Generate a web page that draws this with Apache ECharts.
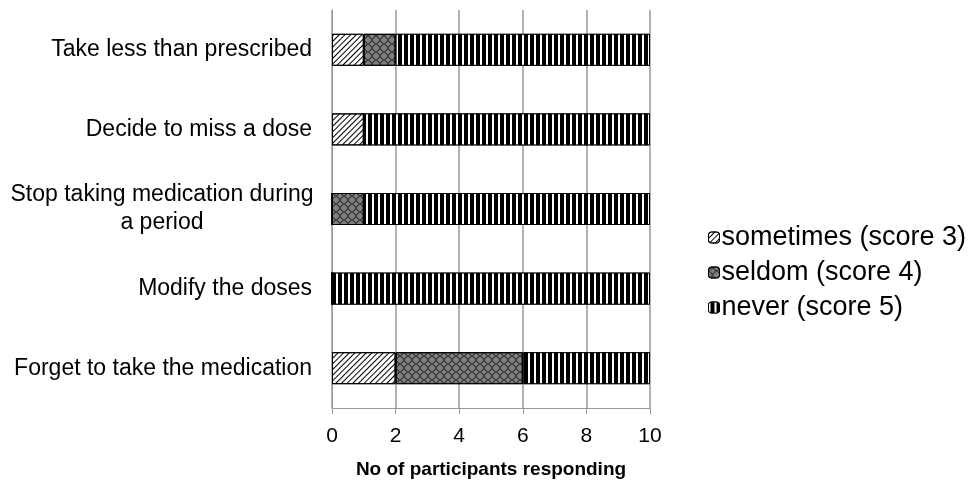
<!DOCTYPE html><html><head><meta charset="utf-8"><script src="https://cdn.jsdelivr.net/npm/echarts@6/dist/echarts.min.js"></script></head><body style="margin:0"><div id="c" style="width:976px;height:485px"></div><script>
const categories=['Forget to take the medication','Modify the doses','Stop taking medication during\na period','Decide to miss a dose','Take less than prescribed'];
const sometimes=[2,0,0,1,1];
const seldom=[4,0,1,0,1];
const never=[4,10,9,9,8];
const chart=echarts.init(document.getElementById('c'));
const F='Liberation Sans, Arial, sans-serif';
const decS={color:'#000',symbol:'rect',dashArrayX:[1,0],dashArrayY:[1,3],rotation:-Math.PI/4,symbolSize:1};
const decM={color:'#000',symbol:'path://M5,0L10,5L5,10L0,5Z M5,1.2L1.2,5L5,8.8L8.8,5Z',dashArrayX:[[8,0]],dashArrayY:[8,0],symbolSize:1};
const decN={color:'#fff',symbol:'rect',dashArrayX:[2,4],dashArrayY:[1,0],symbolSize:1};
function ser(name,data,color,decal){return {name,type:'bar',stack:'a',data,barWidth:32,itemStyle:{color,decal,borderColor:'#000',borderWidth:1}};}
chart.setOption({
 aria:{enabled:false},
 animation:false,
 grid:{left:332,right:326,top:10,bottom:77},
 legend:{orient:'vertical',left:703,top:219,itemGap:8,itemWidth:11,itemHeight:11,itemStyle:{borderColor:'#000',borderWidth:1},textStyle:{fontFamily:F,fontSize:27,color:'#000',padding:[0,0,0,-3]},data:[{name:'sometimes (score 3)'},{name:'seldom (score 4)'},{name:'never (score 5)'}]},
 xAxis:{type:'value',min:0,max:10,interval:2,name:'No of participants responding',nameLocation:'middle',nameGap:52,nameTextStyle:{fontFamily:F,fontSize:19,fontWeight:'bold',color:'#000'},axisLabel:{fontFamily:F,fontSize:21,color:'#000',margin:18},splitLine:{lineStyle:{color:'#999',width:1.5}},axisLine:{show:true,lineStyle:{color:'#999'}},axisTick:{show:true,length:6,lineStyle:{color:'#999'}}},
 yAxis:{type:'category',data:categories,axisLabel:{fontFamily:F,fontSize:23,color:'#000',margin:20,
   formatter:v=>v.includes('\n')?v.split('\n').map(s=>'{c|'+s+'}').join('\n'):v,
   rich:{c:{fontFamily:F,fontSize:23,color:'#000',width:300,align:'center',lineHeight:28}}},
   axisLine:{lineStyle:{color:'#999'}},axisTick:{length:6,lineStyle:{color:'#999'}}},
 series:[ser('sometimes (score 3)',sometimes,'#fff',decS),ser('seldom (score 4)',seldom,'#808080',decM),ser('never (score 5)',never,'#000',decN)]
});
</script></body></html>
